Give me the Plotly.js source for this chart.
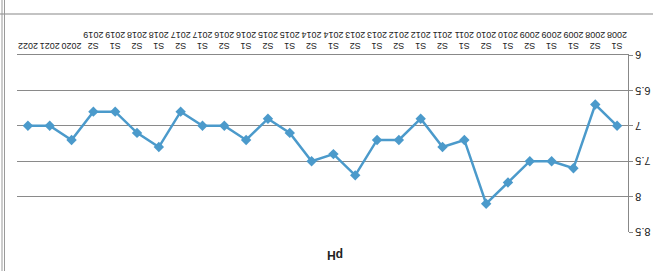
<!DOCTYPE html>
<html>
<head>
<meta charset="utf-8">
<script src="https://cdn.plot.ly/plotly-3.0.1.min.js"></script>
<style>
  html, body { margin: 0; padding: 0; background: #fff; }
  #chart { width: 653px; height: 271px; transform: rotate(180deg); transform-origin: 50% 50%; }
</style>
</head>
<body>
<div id="chart"></div>
<script>
// Data (original orientation; the reference picture is rotated 180 degrees)
const semesters = ['S1','S2','S1','S1','S2','S1','S2','S1','S2','S1','S2','S1','S2','S1',
                   'S2','S1','S2','S1','S2','S1','S2','S1','S2','S1','S2','','',''];
const years = ['2008','2008','2009','2009','2009','2010','2010','2011','2011','2012','2012','2013','2013','2014',
               '2014','2015','2015','2016','2016','2017','2017','2018','2018','2019','2019','2020','2021','2022'];
const phValues = [7.0, 6.7, 7.6, 7.5, 7.5, 7.8, 8.1, 7.2, 7.3, 6.9, 7.2, 7.2, 7.7, 7.4,
                  7.5, 7.1, 6.9, 7.2, 7.0, 7.0, 6.8, 7.3, 7.1, 6.8, 6.8, 7.2, 7.0, 7.0];
const yTicks = [6, 6.5, 7, 7.5, 8, 8.5];

const idx = years.map((_, i) => i);
const tickText = years.map((y, i) => semesters[i] ? semesters[i] + '<br>' + y : y);

const W = 653, H = 271, L = 25, R = 17, T = 39, B = 55;
const pw = W - L - R, ph = H - T - B;
const px = v => (v - L) / pw;
const py = v => (H - B - v) / ph;

const trace = {
  x: idx, y: phValues, type: 'scatter', mode: 'lines+markers',
  line: { color: '#4b9acb', width: 2.5 },
  marker: { symbol: 'diamond', size: 8, color: '#4b9acb' },
  hoverinfo: 'skip'
};

const layout = {
  width: W, height: H,
  margin: { l: L, r: R, t: T, b: B, pad: 0 },
  paper_bgcolor: '#ffffff', plot_bgcolor: '#ffffff',
  showlegend: false,
  font: { family: 'Liberation Sans, Arial, sans-serif', color: '#222' },
  title: { text: '<b>pH</b>', font: { size: 12, color: '#222' }, x: 318 / W, xanchor: 'center', y: 1 - 16 / H, yanchor: 'middle' },
  xaxis: {
    range: [-0.5, 27.5], tickmode: 'array', tickvals: idx, ticktext: tickText,
    tickangle: 0, showgrid: false, zeroline: false, showline: true, linecolor: '#888', linewidth: 1,
    ticks: '', tickfont: { size: 9, color: '#222' }, fixedrange: true
  },
  yaxis: {
    range: [6, 8.5], tickmode: 'array', tickvals: yTicks, ticktext: yTicks.map(String),
    showgrid: true, gridcolor: '#8a8a8a', gridwidth: 1.2, zeroline: false,
    showline: true, linecolor: '#888', linewidth: 1, ticks: 'outside', ticklen: 4, tickcolor: '#888',
    tickfont: { size: 11, color: '#222' }, fixedrange: true
  },
  shapes: [
    { type: 'line', xref: 'paper', yref: 'paper', x0: px(0), x1: px(W), y0: py(257), y1: py(257), line: { color: '#888', width: 1.2 } },
    { type: 'line', xref: 'paper', yref: 'paper', x0: px(648.5), x1: px(648.5), y0: py(0), y1: py(H), line: { color: '#999', width: 1 } },
    { type: 'line', xref: 'paper', yref: 'paper', x0: px(651), x1: px(651), y0: py(0), y1: py(H), line: { color: '#999', width: 1 } }
  ]
};

Plotly.newPlot('chart', [trace], layout, { displayModeBar: false, staticPlot: true });
</script>
</body>
</html>
